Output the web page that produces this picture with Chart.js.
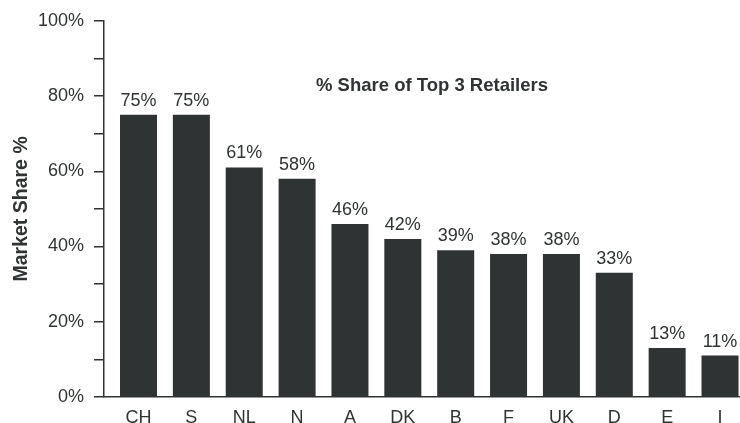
<!DOCTYPE html>
<html>
<head>
<meta charset="utf-8">
<title>% Share of Top 3 Retailers</title>
<script src="https://cdn.jsdelivr.net/npm/chart.js@4/dist/chart.umd.min.js"></script>
<style>
    body { margin: 0; background: #fff; }
    #wrap { width: 740px; height: 423px; }
</style>
</head>
<body>
<div id="wrap"><canvas id="shareChart" width="740" height="423"></canvas></div>
<script>
// ===== DATA =====
const countries = ["CH", "S", "NL", "N", "A", "DK", "B", "F", "UK", "D", "E", "I"];
const shares = [75, 75, 61, 58, 46, 42, 39, 38, 38, 33, 13, 11];
const yTicks = [0, 10, 20, 30, 40, 50, 60, 70, 80, 90, 100];

const ink = "#2f3333";
const font = "'Liberation Sans', Arial, sans-serif";

// value labels above each bar
const barLabels = {
    id: "barLabels",
    afterDatasetsDraw(chart) {
        const ctx = chart.ctx;
        const meta = chart.getDatasetMeta(0);
        ctx.save();
        ctx.fillStyle = ink;
        ctx.font = "18px " + font;
        ctx.textAlign = "center";
        ctx.textBaseline = "bottom";
        meta.data.forEach((bar, i) => {
            ctx.fillText(shares[i] + "%", bar.x, bar.y - 5);
        });
        ctx.restore();
    }
};

// heading inside the plot
const heading = {
    id: "heading",
    afterDraw(chart) {
        const ctx = chart.ctx;
        ctx.save();
        ctx.fillStyle = ink;
        ctx.font = "bold 18.5px " + font;
        ctx.textAlign = "center";
        ctx.textBaseline = "middle";
        ctx.fillText("% Share of Top 3 Retailers", 432, 86);
        ctx.restore();
    }
};

new Chart(document.getElementById("shareChart"), {
    type: "bar",
    data: {
        datasets: [{
            data: shares.map((v, i) => ({ x: i, y: v })),
            backgroundColor: ink,
            borderWidth: 0,
            barPercentage: 0.7,
            categoryPercentage: 1
        }]
    },
    options: {
        responsive: false,
        animation: false,
        layout: { padding: { top: 19, right: 0, left: 0, bottom: 0 } },
        plugins: {
            legend: { display: false },
            tooltip: { enabled: false }
        },
        scales: {
            x: {
                type: "linear",
                offset: false,
                min: -0.6526,
                max: 11.378,
                afterBuildTicks: s => { s.ticks = countries.map((_, i) => ({ value: i })); },
                afterFit: s => { s.height = 26; },
                grid: { display: false, offset: false },
                border: { display: true, color: ink, width: 1.5 },
                ticks: {
                    callback: v => countries[v],
                    color: ink,
                    font: { family: font, size: 18 },
                    padding: 2,
                    maxRotation: 0,
                    autoSkip: false
                }
            },
            y: {
                min: 0,
                max: 100,
                afterBuildTicks: s => { s.ticks = yTicks.map(v => ({ value: v })); },
                afterFit: s => { s.width = 104; },
                grid: {
                    drawOnChartArea: false,
                    drawTicks: true,
                    tickLength: 10,
                    color: ink,
                    lineWidth: 1.5
                },
                border: { display: true, color: ink, width: 1.5 },
                ticks: {
                    callback: v => (v % 20 === 0 ? v + "%" : ""),
                    color: ink,
                    font: { family: font, size: 18 },
                    padding: 10
                },
                title: {
                    display: true,
                    text: "Market Share %",
                    color: ink,
                    font: { family: font, size: 19.5, weight: "bold" },
                    padding: { top: 10, bottom: 0 }
                }
            }
        }
    },
    plugins: [barLabels, heading]
});
</script>
</body>
</html>
